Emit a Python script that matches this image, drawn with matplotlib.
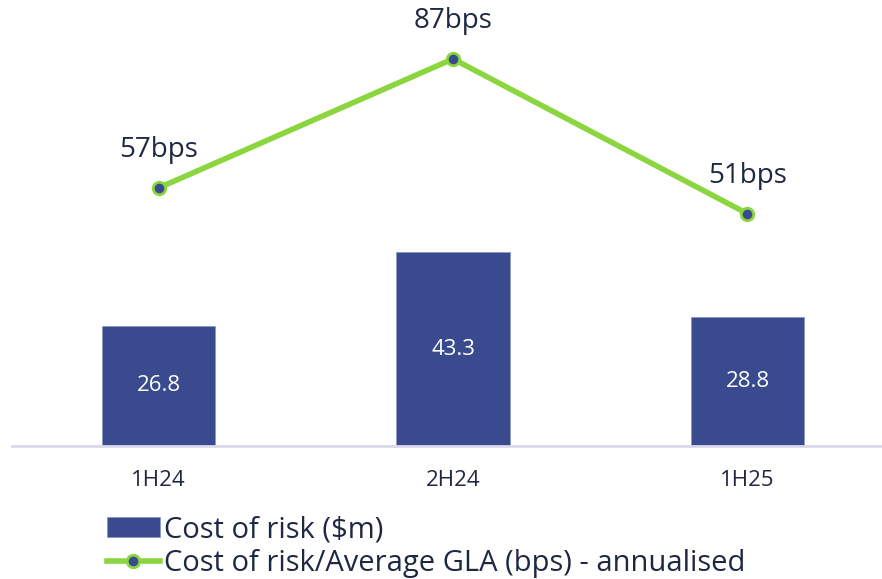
import matplotlib.pyplot as plt
import numpy as np

# data
periods = ['1H24', '2H24', '1H25']
cost_of_risk = [26.8, 43.3, 28.8]
cor_bps = [57, 87, 51]

navy = '#394b8e'
green = '#8bd63f'
text_col = '#1e2843'

plt.rcParams['font.family'] = ['Open Sans', 'DejaVu Sans']

fig = plt.figure(figsize=(8.82, 5.79), dpi=100)
ax = fig.add_axes([12 / 882, 1 - 446 / 579, 870 / 882, 441 / 579])
x = np.arange(len(periods))

bars = ax.bar(x, cost_of_risk, width=0.385, color=navy, edgecolor='#8d97c4', linewidth=0.6,
              label='Cost of risk ($m)', zorder=2)
for xi, v in zip(x, cost_of_risk):
    ax.text(xi, v / 2, f'{v:.1f}', ha='center', va='center', color='white', fontsize=16)

ax.set_xlim(-0.498, 2.457)
ax.set_ylim(0, 441 / 4.48)
ax.set_xticks(x)
ax.set_xticklabels(periods, fontsize=16, color=text_col)
ax.tick_params(axis='x', length=0, pad=17)
ax.set_yticks([])
for s in ['top', 'right', 'left']:
    ax.spines[s].set_visible(False)
ax.spines['bottom'].set_color('#d9d9ea')
ax.spines['bottom'].set_linewidth(2)

# secondary axis for bps
ax2 = ax.twinx()
ax2.set_ylim(-13 / 4.3, 428 / 4.3)
ax2.axis('off')
line, = ax2.plot(x, cor_bps, color=green, linewidth=4, marker='o', markersize=9,
                 markerfacecolor=navy, markeredgecolor=green, markeredgewidth=2,
                 label='Cost of risk/Average GLA (bps) - annualised', zorder=3)
for xi, v in zip(x, cor_bps):
    ax2.annotate(f'{v}bps', (xi, v), xytext=(0, 27), textcoords='offset points',
                 ha='center', va='center', fontsize=20, color=text_col)

leg = fig.legend([bars, line], [bars.get_label(), line.get_label()],
                 loc='upper left', bbox_to_anchor=(107 / 882, 1 - 515 / 579),
                 frameon=False, fontsize=21, handlelength=1.8, handletextpad=0.15,
                 labelspacing=0.18, borderpad=0, borderaxespad=0)
for t in leg.get_texts():
    t.set_color(text_col)

fig.savefig('out.png', dpi=100)
